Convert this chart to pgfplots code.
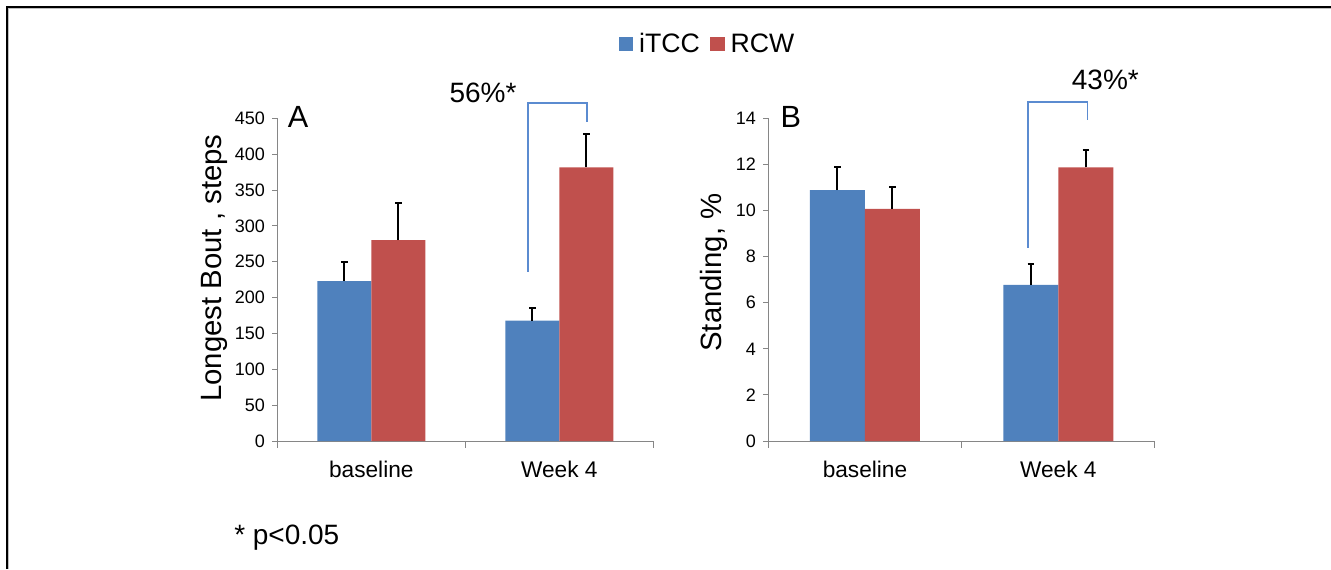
\documentclass[border=0pt]{standalone}
\usepackage{fontspec}
\setmainfont{Liberation Sans}
\usepackage{pgfplots}
\pgfplotsset{compat=1.18}
\definecolor{cblue}{HTML}{4F81BD}
\definecolor{cred}{HTML}{C0504D}
\definecolor{axisgray}{HTML}{868686}
\definecolor{brblue}{HTML}{5B8BD0}
\pgfplotsset{
  mybars/.style={
    scale only axis,
    ybar=0pt,
    axis x line*=bottom,
    axis y line*=left,
    axis line style={axisgray,line width=0.75pt},
    tick align=outside,
    major tick length=3.75pt,
    minor tick length=5pt,
    ytick style={axisgray,line width=0.75pt},
    major x tick style={draw=none},
    minor x tick style={axisgray,line width=0.75pt},
    xmin=-0.5,xmax=1.5,
    xtick={0,1},
    xticklabels={baseline,Week 4},
    minor xtick={-0.5,0.5,1.5},
    xticklabel style={font=\fontsize{17}{20}\selectfont,yshift=-7.5pt},
    yticklabel style={font=\fontsize{13.5}{16}\selectfont,xshift=-2pt},
    /pgf/number format/assume math mode=true,
    ylabel style={font=\fontsize{22}{26}\selectfont,anchor=center},
    clip=false,
    error bars/y dir=plus,
    error bars/y explicit,
    error bars/error bar style={black,line width=1.5pt},
    error bars/error mark options={rotate=90,mark size=2.4pt,line width=1.5pt,black},
  },
  sqleg/.style={legend image code/.code={\fill[##1] (0pt,-5.5pt) rectangle (11pt,5.5pt);}},
}
\begin{document}
\begin{tikzpicture}
\useasboundingbox (0,0) rectangle (998.25pt,426.75pt);
\draw[black,line width=1.5pt] (5pt,0) -- (5pt,421.7pt) -- (998.25pt,421.7pt);
\draw[gray!50,line width=0.6pt] (6.6pt,0) -- (6.6pt,420.1pt) -- (998.25pt,420.1pt);
% Panel A
\begin{axis}[mybars,
  at={(207.975pt,96pt)},anchor=south west,
  width=282pt,height=242pt,
  bar width=40.5pt,
  ymin=0,ymax=450,
  ytick={0,50,...,450},
  ylabel={Longest Bout , steps},
  ylabel style={at={(axis description cs:-0.168,0.536)}},
  legend columns=2,
  legend style={at={(axis description cs:1.1439,1.2302)},anchor=center,
    draw=none,fill=none,inner sep=0pt,
    font=\fontsize{20}{24}\selectfont,
    nodes={inner sep=1.5pt},
    /tikz/every odd column/.append style={column sep=3pt},
    /tikz/every even column/.append style={column sep=6pt}},
]
\addplot[fill=cblue,draw=none,sqleg] coordinates {(0,223) +- (0,27) (1,168) +- (0,17)};
\addplot[fill=cred,draw=none,sqleg] coordinates {(0,280) +- (0,51.5) (1,381.5) +- (0,46.5)};
\legend{iTCC,RCW}
\addplot[sharp plot,brblue,line width=1.4pt,mark=none,forget plot] coordinates {(0.832,236) (0.832,472) (1.149,472) (1.149,445)};
\node[font=\fontsize{21}{25}\selectfont] at (axis cs:0.594,485) {56\%*};
\node[font=\fontsize{23}{27}\selectfont] at (axis cs:-0.39,452) {A};
\node[font=\fontsize{21}{25}\selectfont,anchor=base west,inner sep=0pt] at (rel axis cs:-0.1152,-0.3223) {* p<0.05};
\end{axis}
% Panel B
\begin{axis}[mybars,
  at={(576.225pt,96pt)},anchor=south west,
  width=290pt,height=242pt,
  bar width=41.25pt,
  ymin=0,ymax=14,
  ytick={0,2,...,14},
  ylabel={Standing, \%},
  ylabel style={at={(axis description cs:-0.14,0.522)}},
]
\addplot[fill=cblue,draw=none] coordinates {(0,10.88) +- (0,1.01) (1,6.77) +- (0,0.9)};
\addplot[fill=cred,draw=none] coordinates {(0,10.07) +- (0,0.96) (1,11.87) +- (0,0.75)};
\addplot[sharp plot,brblue,line width=1.4pt,mark=none,forget plot] coordinates {(0.845,8.39) (0.845,14.69) (1.151,14.69) (1.151,13.93)};
\node[font=\fontsize{21}{25}\selectfont] at (axis cs:1.2435,15.67) {43\%*};
\node[font=\fontsize{23}{27}\selectfont] at (axis cs:-0.383,14.07) {B};
\end{axis}
\end{tikzpicture}
\end{document}
